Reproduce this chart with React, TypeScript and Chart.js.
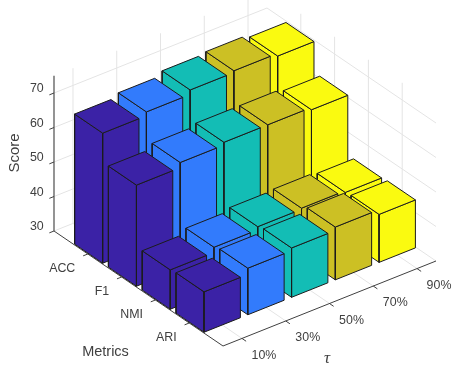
import React, { useEffect, useRef } from "react";
import { Chart, registerables } from "chart.js";

Chart.register(...registerables);

const metrics = ["ACC", "F1", "NMI", "ARI"];
const taus = ["10%", "30%", "50%", "70%", "90%"];
const scoreTicks = [30, 40, 50, 60, 70];
const accValues = [67.7, 68.8, 70.1, 70.6, 69.8];
const f1Values = [59.3, 60.8, 61.6, 61.6, 60.9];
const nmiValues = [41.4, 42.9, 43.8, 44.1, 43.6];
const ariValues = [41.7, 43.5, 44.3, 45.3, 43.9];
const table = [accValues, f1Values, nmiValues, ariValues];
const colors = ["#3B22A6", "#327BFC", "#13BDB5", "#CCC024", "#FAFA10"];

const F = { x: 223, y: 346 };
const EX = { x: 213, y: -85 };
const EY = { x: -169, y: -115 };
const ZS = 3.45;
const TMIN = 0.566;
const TSPAN = 4.868;
const W = 0.83;

function P(t: number, m: number, z: number) {
  const a = (t - TMIN) / TSPAN;
  const b = (5 - m) / 5;
  return { x: F.x + a * EX.x + b * EY.x, y: F.y + a * EX.y + b * EY.y - (z - 30) * ZS };
}

function buildDatasets() {
  const ds: any[] = [];
  const line = (pts: any[], color: string, width = 1) =>
    ds.push({
      data: pts, showLine: true, fill: false, borderColor: color, borderWidth: width,
      pointRadius: 0, tension: 0, borderCapStyle: "butt",
    });
  const poly = (pts: any[], color: string) =>
    ds.push({
      data: [...pts, pts[0]], showLine: true, fill: "shape", backgroundColor: color,
      borderColor: "#1c1c1c", borderWidth: 1, pointRadius: 0, tension: 0, borderJoinStyle: "miter",
    });
  const TMAX = TMIN + TSPAN;
  const grid = "#e4e4e4";
  taus.forEach((_, i) => {
    const t = i + 1;
    line([P(t, 0, 30), P(t, 0, 75)], grid);
    line([P(t, 0, 30), P(t, 5, 30)], grid);
  });
  metrics.forEach((_, i) => {
    const m = i + 1;
    line([P(TMAX, m, 30), P(TMAX, m, 75)], grid);
    line([P(TMIN, m, 30), P(TMAX, m, 30)], grid);
  });
  scoreTicks.forEach((z) => {
    line([P(TMIN, 0, z), P(TMAX, 0, z), P(TMAX, 5, z)], grid);
  });
  // axes
  const ax = "#404040";
  line([P(TMIN, 0, 30), P(TMIN, 0, 75)], "#666666", 1.4);
  line([P(TMIN, 0, 30), P(TMIN, 5, 30)], ax);
  line([P(TMIN, 5, 30), P(TMAX, 5, 30)], ax);
  const tx = { x: -EX.x / 229.3 * 5, y: -EX.y / 229.3 * 5 };
  const ty = { x: -EY.x / 204.4 * 5, y: -EY.y / 204.4 * 5 };
  scoreTicks.forEach((z) => {
    const p = P(TMIN, 0, z);
    line([p, { x: p.x + tx.x, y: p.y + tx.y }], ax);
  });
  metrics.forEach((_, i) => {
    const p = P(TMIN, i + 1, 30);
    line([p, { x: p.x + tx.x, y: p.y + tx.y }], ax);
  });
  taus.forEach((_, i) => {
    const p = P(i + 1, 5, 30);
    line([p, { x: p.x + ty.x, y: p.y + ty.y }], ax);
  });
  // bars, far to near
  table.forEach((vals, mi) => {
    for (let ti = taus.length - 1; ti >= 0; ti--) {
      const t = ti + 1;
      const m = mi + 1;
      const z = vals[ti];
      const x0 = t - W / 2, x1 = t + W / 2, y0 = m - W / 2, y1 = m + W / 2;
      const c = colors[ti];
      poly([P(x0, y0, 30), P(x0, y1, 30), P(x0, y1, z), P(x0, y0, z)], c);
      poly([P(x0, y1, 30), P(x1, y1, 30), P(x1, y1, z), P(x0, y1, z)], c);
      poly([P(x0, y0, z), P(x1, y0, z), P(x1, y1, z), P(x0, y1, z)], c);
    }
  });
  ds.forEach((d, i) => (d.order = ds.length - i));
  return ds;
}

const labelsPlugin = {
  id: "labels3d",
  afterDraw(chart: any) {
    const ctx = chart.ctx;
    ctx.save();
    ctx.fillStyle = "#404040";
    ctx.textBaseline = "middle";
    const font = '"Liberation Sans", Arial, sans-serif';
    ctx.font = `12.4px ${font}`;
    ctx.textAlign = "right";
    scoreTicks.forEach((z) => {
      const p = P(TMIN, 0, z);
      ctx.fillText(String(z), p.x - 10.3, p.y - 4);
    });
    metrics.forEach((m, i) => {
      const p = P(TMIN, i + 1, 30);
      ctx.fillText(m, p.x - 12.5, p.y + 14.5);
    });
    ctx.textAlign = "center";
    taus.forEach((t, i) => {
      const p = P(i + 1, 5, 30);
      ctx.fillText(t, p.x + 22, p.y + 17);
    });
    ctx.font = `14.5px ${font}`;
    ctx.fillText("Metrics", 105.5, 352);
    ctx.font = 'italic 17px "Liberation Serif", serif';
    ctx.fillText("\u03C4", 327, 359);
    ctx.font = `15px ${font}`;
    ctx.translate(15, 153);
    ctx.rotate(-Math.PI / 2);
    ctx.fillText("Score", 0, 0);
    ctx.restore();
  },
};

export default function App() {
  const ref = useRef<HTMLCanvasElement>(null);
  useEffect(() => {
    const chart = new Chart(ref.current as HTMLCanvasElement, {
      type: "scatter",
      data: { datasets: buildDatasets() },
      options: {
        animation: false,
        responsive: false,
        layout: { padding: 0 },
        plugins: { legend: { display: false }, tooltip: { enabled: false } },
        scales: {
          x: { type: "linear", display: false, min: 0, max: 460 },
          y: { type: "linear", display: false, min: 0, max: 370, reverse: true },
        },
      },
      plugins: [labelsPlugin],
    } as any);
    return () => chart.destroy();
  }, []);
  return (
    <div style={{ position: "fixed", left: 0, top: 0, width: 460, height: 370, background: "#fff" }}>
      <canvas ref={ref} width={460} height={370} style={{ display: "block" }} />
    </div>
  );
}
